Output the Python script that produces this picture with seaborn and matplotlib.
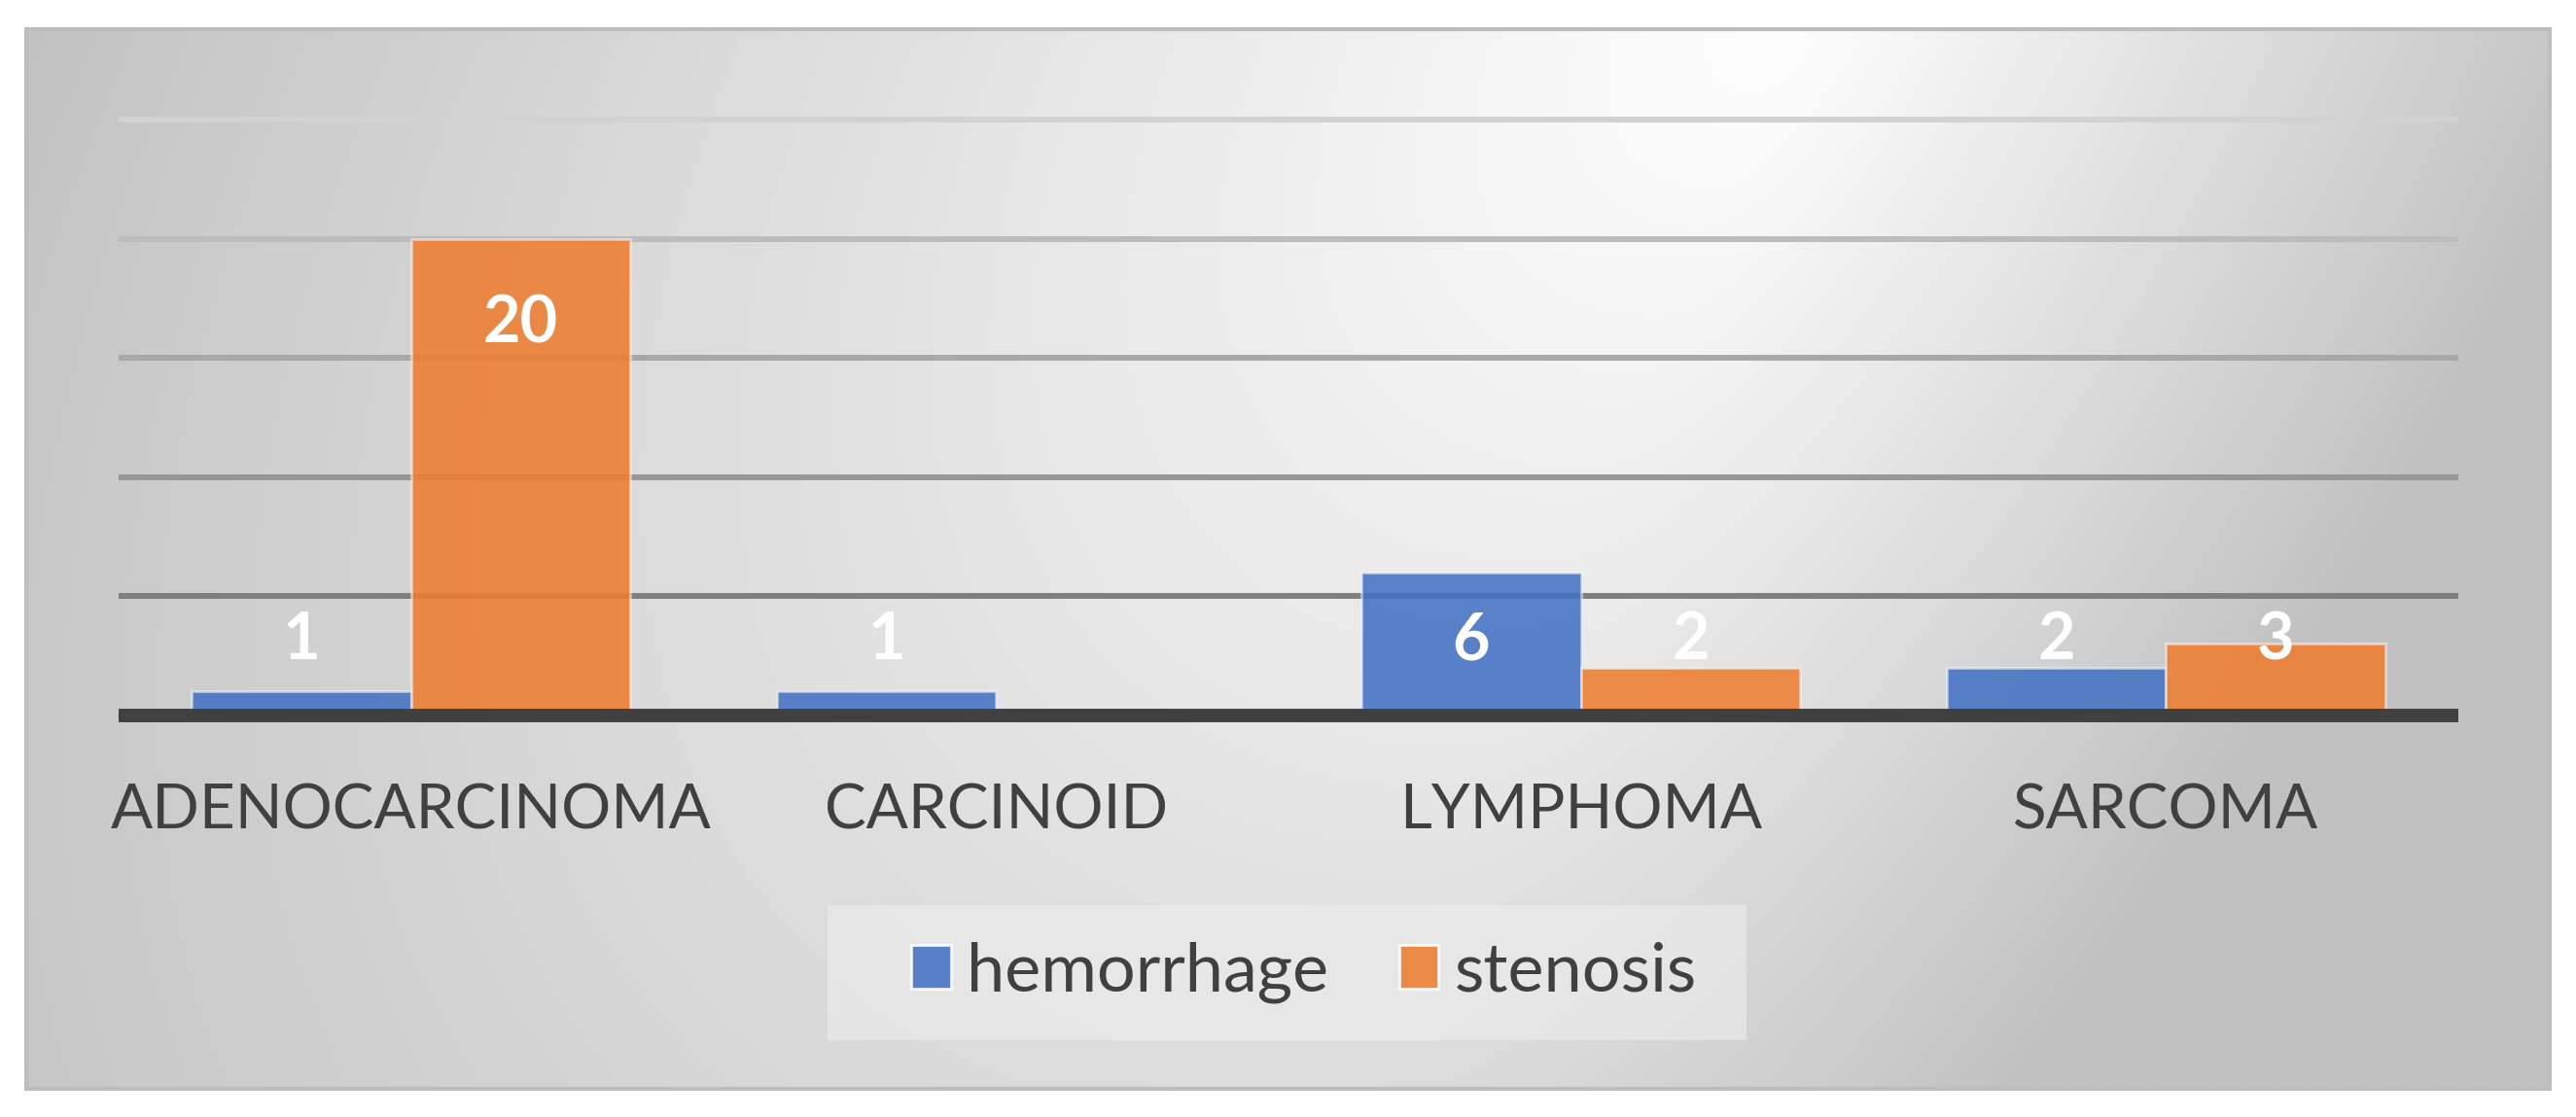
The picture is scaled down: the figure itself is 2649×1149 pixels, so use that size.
import numpy as np
import pandas as pd
import matplotlib
matplotlib.use("Agg")
import matplotlib.pyplot as plt
from matplotlib.patches import Rectangle, Patch
import seaborn as sns

# ---- data ----
categories = ["ADENOCARCINOMA", "CARCINOID", "LYMPHOMA", "SARCOMA"]
series_names = ["hemorrhage", "stenosis"]
hemorrhage = [1, 1, 6, 2]
stenosis = [20, 0, 2, 3]
colors = ["#4472C4", "#ED7D31"]
grid_values = [5, 10, 15, 20, 25]
grid_colors = ["#7f7f7f", "#979797", "#a8a8a8", "#bcbcbc", "#d2d2d2"]

df = pd.DataFrame({
    "category": categories * 2,
    "value": hemorrhage + stenosis,
    "series": [series_names[0]] * len(categories) + [series_names[1]] * len(categories),
})

sns.set_theme(style="white")
plt.rcParams["font.family"] = ["Lato", "DejaVu Sans"]

W, H = 2649, 1149
fig = plt.figure(figsize=(W / 100, H / 100), dpi=100, facecolor="white")

# ---- gradient panel ----
px0, px1, py0, py1 = 27, 2622, 30, 1120
bg = fig.add_axes([px0 / W, (H - py1) / H, (px1 - px0) / W, (py1 - py0) / H], zorder=-2)
xs = np.linspace(px0, px1, 650)
ys = np.linspace(py0, py1, 280)
X, Y = np.meshgrid(xs, ys)
cx = 1850 - 0.45 * Y
dx = X - cx
rx = np.where(dx < 0, 1850.0, 880.0)
r = np.sqrt((dx / rx) ** 2 + (Y / 2000.0) ** 2)
I = (255 - 62 * np.clip(r, 0, 1)) / 255.0
img = np.dstack([I, I, I])
bg.imshow(img, aspect="auto", interpolation="bilinear", extent=[0, 1, 0, 1], origin="upper")
bg.set_xlim(0, 1)
bg.set_ylim(0, 1)
bg.axis("off")
fig.patches.append(Rectangle((px0 / W, (H - py1) / H), (px1 - px0) / W, (py1 - py0) / H,
                             transform=fig.transFigure, facecolor="none",
                             edgecolor="#bdbdbd", linewidth=3, zorder=-1))

# ---- main axes ----
zero_px, unit_px, ytop = 736, 24.52, 25.6
top_px = zero_px - ytop * unit_px
ax = fig.add_axes([122 / W, (H - zero_px) / H, (2528 - 122) / W, (zero_px - top_px) / H], zorder=1)
ax.set_facecolor("none")

sns.barplot(data=df, x="category", y="value", hue="series", order=categories,
            hue_order=series_names, palette=colors, saturation=1, width=0.75,
            errorbar=None, ax=ax, legend=False, zorder=2)

for patch in ax.patches:
    fc = patch.get_facecolor()
    patch.set_facecolor((fc[0], fc[1], fc[2], 0.88))
    patch.set_edgecolor((1, 1, 1, 0.5))
    patch.set_linewidth(2)

for val, col in zip(grid_values, grid_colors):
    ax.axhline(val, color=col, linewidth=4.3, zorder=1, clip_on=False,
               solid_capstyle="butt")
ax.axhline(0, color="#404040", linewidth=10, zorder=3, clip_on=False,
           solid_capstyle="butt")

ax.set_xlim(-0.5, 3.5)
ax.set_ylim(0, ytop)
ax.set_yticks([])
ax.set_xlabel("")
ax.set_ylabel("")
for s in ax.spines.values():
    s.set_visible(False)
ax.tick_params(axis="x", length=0, pad=50, labelsize=46, labelcolor="#404040")

# value labels
for container in ax.containers:
    for bar in container:
        h = bar.get_height()
        if h > 0:
            yc = max(h - 3.4, 3.34)
            ax.text(bar.get_x() + bar.get_width() / 2, yc - 0.98, f"{int(h)}",
                    ha="center", va="baseline", color="white", fontsize=48,
                    fontweight="bold", zorder=4)

# ---- legend ----
fig.patches.append(Rectangle((851 / W, (H - 1070) / H), 945 / W, 139 / H,
                             transform=fig.transFigure, facecolor="#eeeeee",
                             alpha=0.6, edgecolor="none", zorder=2))
handles = [Patch(facecolor=c, alpha=0.88, edgecolor=(1, 1, 1, 0.6), linewidth=2) for c in colors]
fig.legend(handles, series_names, loc="center", bbox_to_anchor=(1341 / W, (H - 1000) / H),
           ncol=2, frameon=False, fontsize=50.5, handlelength=0.58, handleheight=0.6,
           handletextpad=0.23, columnspacing=1.03, labelcolor="#404040", borderpad=0)

fig.savefig("out.png", dpi=100, facecolor="white")
